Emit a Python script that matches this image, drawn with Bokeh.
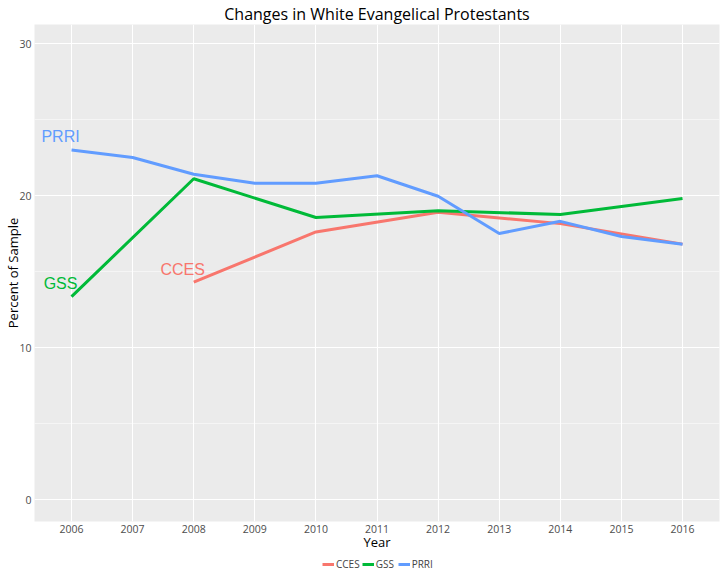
from bokeh.plotting import figure
from bokeh.layouts import column
from bokeh.models import Range1d, FixedTicker, SingleIntervalTicker, Legend, LegendItem
from bokeh.core.properties import value
from bokeh.embed import file_html
from bokeh.resources import INLINE

# values (percent of sample)
cces_years = [2008, 2010, 2012, 2014, 2016]
cces = [14.3, 17.6, 18.9, 18.15, 16.8]
gss_years = [2006, 2008, 2010, 2012, 2014, 2016]
gss = [13.35, 21.1, 18.55, 19.0, 18.75, 19.8]
prri_years = [2006, 2007, 2008, 2009, 2010, 2011, 2012, 2013, 2014, 2015, 2016]
prri = [23.0, 22.5, 21.4, 20.8, 20.8, 21.3, 19.95, 17.5, 18.3, 17.3, 16.8]

series_names = ["CCES", "GSS", "PRRI"]
colors = ["#F8766D", "#00BA38", "#619CFF"]
year_ticks = list(range(2006, 2017))

FONT = "Open Sans"
X0, X1 = 2005.394, 2016.605
Y0, Y1 = -1.447, 31.25

p = figure(frame_width=685, frame_height=497,
           x_range=Range1d(X0, X1), y_range=Range1d(Y0, Y1),
           title="Changes in White Evangelical Protestants",
           output_backend="svg", toolbar_location=None,
           min_border_left=34, min_border_right=4, min_border_top=22, min_border_bottom=32)

p.background_fill_color = "#EBEBEB"
p.border_fill_color = "white"
p.outline_line_color = None

p.title.align = "center"
p.title.text_font = FONT
p.title.text_font_size = "16px"
p.title.text_font_style = "normal"
p.title.text_color = "black"
p.title.standoff = 0
p.title.offset = 0

# grid
p.xaxis.ticker = FixedTicker(ticks=year_ticks)
p.yaxis.ticker = SingleIntervalTicker(interval=10, num_minor_ticks=2)
p.xgrid.grid_line_color = "white"
p.ygrid.grid_line_color = "white"
p.xgrid.grid_line_width = 1.1
p.ygrid.grid_line_width = 1.1
p.ygrid.minor_grid_line_color = "white"
p.ygrid.minor_grid_line_width = 0.5

for ax in (p.xaxis, p.yaxis):
    ax.axis_line_color = None
    ax.major_tick_line_color = None
    ax.minor_tick_line_color = None
    ax.major_tick_out = 0
    ax.major_tick_in = 0
    ax.minor_tick_out = 0
    ax.minor_tick_in = 0
    ax.major_label_text_color = "#4D4D4D"
    ax.major_label_text_font = FONT
    ax.major_label_text_font_size = "10.5px"
    ax.major_label_standoff = 3
    ax.axis_label_text_font = FONT
    ax.axis_label_text_font_style = "normal"
    ax.axis_label_text_font_size = "13px"
    ax.axis_label_text_color = "black"

p.xaxis.axis_label = "Year"
p.xaxis.axis_label_standoff = -3
p.yaxis.axis_label = "Percent of Sample"
p.yaxis.axis_label_standoff = -6

# lines
p.line(cces_years, cces, line_color=colors[0], line_width=3)
p.line(gss_years, gss, line_color=colors[1], line_width=3)
p.line(prri_years, prri, line_color=colors[2], line_width=3)

# direct labels near the start of each series
starts_x = [cces_years[0], gss_years[0], prri_years[0]]
starts_y = [cces[0], gss[0], prri[0]]
p.text(x=[x - 0.18 for x in starts_x], y=[y + 0.85 for y in starts_y],
       text=series_names, text_color=colors,
       text_font=value("Liberation Sans"), text_font_size="16px",
       text_align="center", text_baseline="middle")

# legend strip under the chart (its lines fall outside its own ranges)
q = figure(width=723, height=22, x_range=Range1d(0, 1), y_range=Range1d(0, 1),
           output_backend="svg", toolbar_location=None,
           x_axis_location=None, y_axis_location=None,
           min_border=0, min_border_left=0, min_border_right=0,
           min_border_top=0, min_border_bottom=0)
q.grid.visible = False
q.outline_line_color = None
q.background_fill_color = "white"
q.border_fill_color = "white"

items = []
for name, xs, ys, c in zip(series_names, [cces_years, gss_years, prri_years],
                           [cces, gss, prri], colors):
    r = q.line(xs, ys, line_color=c, line_width=3)
    items.append(LegendItem(label=name, renderers=[r]))

legend = Legend(items=items, orientation="horizontal", location=(288, 4))
legend.label_text_font = FONT
legend.label_text_font_size = "10px"
legend.label_standoff = 2
legend.glyph_width = 12
legend.glyph_height = 10
legend.label_height = 10
legend.spacing = 2
legend.padding = 0
legend.margin = 0
legend.background_fill_alpha = 0
legend.border_line_alpha = 0
q.add_layout(legend)

layout = column(p, q, spacing=0)
open("out.html", "w").write(file_html(layout, INLINE))
